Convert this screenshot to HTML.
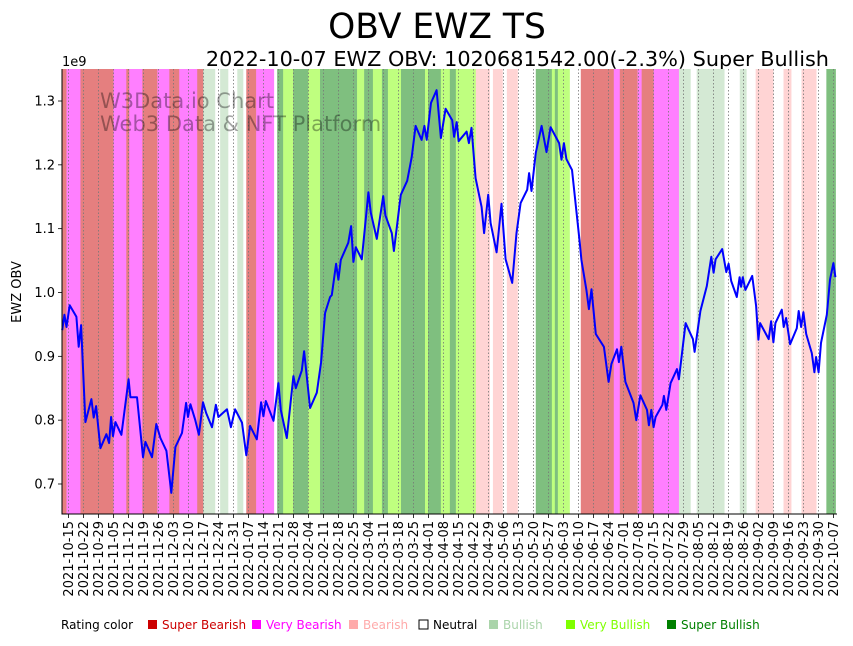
<!DOCTYPE html>
<html><head><meta charset="utf-8">
<style>
body{margin:0;background:#fff;width:853px;height:641px;overflow:hidden;font-family:"Liberation Sans","DejaVu Sans",sans-serif;}
svg text{font-family:"DejaVu Sans","Liberation Sans",sans-serif;}
</style></head>
<body>
<svg id="chart" width="853" height="641" xmlns="http://www.w3.org/2000/svg">
<text x="437" y="38" font-size="34.5" text-anchor="middle">OBV EWZ TS</text>
<text x="829" y="66" font-size="20.8" text-anchor="end">2022-10-07 EWZ OBV: 1020681542.00(-2.3%) Super Bullish</text>
<text x="0" y="0" font-size="13" text-anchor="middle" transform="translate(21,292) rotate(-90)">EWZ OBV</text>
<text x="62" y="66" font-size="13">1e9</text>
<g id="bands"></g><g id="grid"></g>
<text x="100" y="108" font-size="21" fill="#000" fill-opacity="0.35">W3Data.io Chart</text>
<text x="100" y="131" font-size="21" fill="#000" fill-opacity="0.35">Web3 Data &amp; NFT Platform</text>
<g id="series"></g><g id="axes"></g>
<g id="legend" font-size="12"></g>
</svg>
<script>
const bandStarts=[-3,-0.9,5.6,21,27,28.4,34.5,41.5,47.1,51.7,60.1,62.9,68.5,70.8,74.6,78.8,81.6,83,87.6,96,97.4,100.2,104.9,111.9,117.4,134.7,138,142.1,146.3,149.1,155.2,166.4,167.8,173.8,178,180.8,190.1,196.7,198.1,202.7,204.6,209.7,218.1,225.6,227,228.4,234,239.1,254.5,257.3,265.6,267.5,273.1,284.9,290.4,293.2,306.2,313.3,316.5,320.7,329,333.7,337.4,342.1,349.1,353.7];
const bandRatings=["SBr","VBr","SBr","VBr","SBr","VBr","SBr","VBr","SBr","VBr","SBr","Bu","N","Bu","N","Bu","N","SBr","VBr","N","SBu","VBu","SBu","VBu","SBu","VBu","SBu","VBu","SBu","VBu","SBu","VBu","SBu","VBu","SBu","VBu","Br","N","Br","N","Br","N","SBu","VBu","SBu","VBu","N","SBr","VBr","SBr","VBr","SBr","VBr","Bu","N","Bu","N","Bu","N","Br","N","Br","N","Br","N","SBu"];
const bandEnd=358;
const days=[-2.9,-1.9,-0.9,0.6,3.7,4.8,5.9,7.9,10.7,11.8,12.9,14.9,17.7,19.0,19.9,20.8,21.9,24.7,28.1,28.9,32.0,34.8,35.9,39.0,41.0,42.9,45.7,48.0,49.9,53.0,54.9,55.8,56.9,59.2,60.9,62.8,64.3,67.0,68.8,70.0,74.0,75.8,77.8,81.0,83.0,84.8,87.9,89.9,91.0,92.1,95.7,98.0,99.1,101.9,105.0,106.1,108.9,110.0,112.8,115.9,117.9,119.8,122.1,122.9,124.9,126.0,127.1,130.6,131.9,133.0,134.1,136.9,140.0,141.1,143.9,146.9,147.9,150.9,151.9,155.1,158.1,160.2,162.0,164.8,166.1,167.2,169.2,171.8,173.8,176.0,179.1,180.0,181.2,182.1,185.8,186.9,188.1,190.0,192.8,194.0,195.9,197.0,199.8,202.1,204.0,207.1,209.1,211.0,214.1,215.0,216.1,218.1,220.8,223.1,225.0,229.0,230.1,231.2,232.4,235.0,238.6,239.4,241.7,242.9,244.1,246.1,249.9,252.1,253.4,256.0,256.9,258.0,259.9,263.7,265.0,266.9,270.0,270.9,272.0,273.1,274.0,277.2,277.9,279.0,281.0,284.0,284.9,288.0,291.4,292.2,294.9,297.9,300.0,301.1,302.0,305.1,307.0,308.1,309.3,311.9,313.2,313.9,314.7,315.9,319.1,320.9,322.0,322.8,326.8,327.9,329.0,329.9,332.9,333.8,334.9,336.8,339.9,340.8,341.9,343.0,344.3,346.9,348.1,348.9,350.1,351.2,353.9,355.4,357.0,357.9];
const obv=[0.941,0.965,0.946,0.980,0.962,0.915,0.949,0.797,0.833,0.804,0.822,0.756,0.778,0.764,0.805,0.775,0.797,0.777,0.864,0.836,0.836,0.742,0.766,0.742,0.794,0.772,0.752,0.686,0.758,0.780,0.827,0.805,0.825,0.800,0.777,0.828,0.811,0.789,0.824,0.805,0.817,0.789,0.817,0.796,0.745,0.791,0.770,0.828,0.806,0.830,0.799,0.858,0.816,0.772,0.869,0.850,0.878,0.908,0.819,0.843,0.891,0.968,0.993,0.996,1.045,1.020,1.051,1.078,1.104,1.048,1.071,1.052,1.157,1.125,1.084,1.151,1.121,1.093,1.065,1.153,1.175,1.212,1.261,1.239,1.261,1.239,1.297,1.317,1.242,1.288,1.270,1.244,1.267,1.237,1.252,1.234,1.258,1.179,1.134,1.093,1.153,1.109,1.063,1.139,1.052,1.015,1.093,1.140,1.161,1.187,1.159,1.219,1.261,1.220,1.259,1.234,1.208,1.234,1.209,1.192,1.079,1.051,1.004,0.974,1.005,0.935,0.915,0.860,0.888,0.911,0.891,0.915,0.860,0.827,0.800,0.839,0.816,0.792,0.816,0.789,0.805,0.824,0.838,0.816,0.858,0.880,0.864,0.952,0.927,0.907,0.971,1.010,1.056,1.031,1.052,1.068,1.032,1.045,1.018,0.993,1.024,1.009,1.024,1.004,1.026,0.979,0.926,0.952,0.927,0.955,0.922,0.952,0.973,0.946,0.960,0.919,0.944,0.971,0.946,0.969,0.935,0.905,0.875,0.899,0.875,0.921,0.965,1.020,1.046,1.024];
const yTicks=[0.7,0.8,0.9,1.0,1.1,1.2,1.3];
const legendLabels=["Super Bearish","Very Bearish","Bearish","Neutral","Bullish","Very Bullish","Super Bullish"];
const legendKeys=["SBr","VBr","Br","N","Bu","VBu","SBu"];

const NS="http://www.w3.org/2000/svg";
const L=62,R=836,T=69,B=514;
const dMin=-3,dMax=358.2;
function xs(d){return L+(d-dMin)/(dMax-dMin)*(R-L);}
function ys(v){return 292.5-(v-1.0)*638.3;}
const fill={SBr:"#e57f7f",VBr:"#ff7fff",Br:"#ffd4d4",N:"#ffffff",Bu:"#d4e9d4",VBu:"#bfff7f",SBu:"#7fbf7f"};
const legFill={SBr:"#cc0000",VBr:"#ff00ff",Br:"#ffaaaa",N:"#ffffff",Bu:"#aad4aa",VBu:"#7fff00",SBu:"#008000"};
const legText={SBr:"#cc0000",VBr:"#ff00ff",Br:"#ffaaaa",N:"#000",Bu:"#aad4aa",VBu:"#7fff00",SBu:"#008000"};
function mk(t,a,p){const e=document.createElementNS(NS,t);for(const k in a)e.setAttribute(k,a[k]);p.appendChild(e);return e;}

const gB=document.getElementById('bands');
for(let i=0;i<bandStarts.length;i++){
  const s=bandStarts[i],e=i+1<bandStarts.length?bandStarts[i+1]:bandEnd;
  const r=mk('rect',{x:xs(s),y:T,width:xs(e)-xs(s)+0.3,height:B-T,fill:fill[bandRatings[i]]},gB);
  
  
}
const gG=document.getElementById('grid'),gA=document.getElementById('axes');
const start=new Date(Date.UTC(2021,9,15));
for(let w=0;w<=51;w++){
  const d=w*7,x=xs(d);
  const g=mk('line',{x1:x,x2:x,y1:T,y2:B,stroke:"#777",'stroke-width':0.8,'stroke-dasharray':"1.5,2"},gG);
  
  
  mk('line',{x1:x,x2:x,y1:B,y2:B+4,stroke:"#000",'stroke-width':0.8},gA);
  const dt=new Date(start.getTime()+d*86400000);
  const lbl=dt.toISOString().slice(0,10);
  const t=mk('text',{x:0,y:0,'font-size':13,'text-anchor':'end',transform:`translate(${x+4.5},${B+7}) rotate(-90)`},gA);
  t.textContent=lbl;
  
  
}
yTicks.forEach(v=>{
  const y=ys(v);
  mk('line',{x1:L-4,x2:L,y1:y,y2:y,stroke:"#000",'stroke-width':0.8},gA);
  const t=mk('text',{x:L-7,y:y+4.5,'font-size':13,'text-anchor':'end'},gA);
  t.textContent=v.toFixed(1);
  
  
});
const ax=mk('path',{d:`M${L},${T}V${B}H${R+1}`,fill:"none",stroke:"#000",'stroke-width':1},gA);


const pts=days.map((d,i)=>xs(d).toFixed(1)+","+ys(obv[i]).toFixed(1)).join(" ");
const ln=mk('polyline',{points:pts,fill:"none",stroke:"#0000ff",'stroke-width':2,'stroke-linejoin':'round'},document.getElementById('series'));



const gL=document.getElementById('legend');
let t0=mk('text',{x:61,y:629},gL);t0.textContent="Rating color";


const lx=[148,252,349,419,489,566,667];
legendKeys.forEach((k,i)=>{
  const r=mk('rect',{x:lx[i],y:620,width:9,height:9,fill:legFill[k],stroke:k==="N"?"#000":"none",'stroke-width':1},gL);
  
  
  const t=mk('text',{x:lx[i]+14,y:629,fill:legText[k]},gL);
  t.textContent=legendLabels[i];
  
  
});
</script>
</body></html>
